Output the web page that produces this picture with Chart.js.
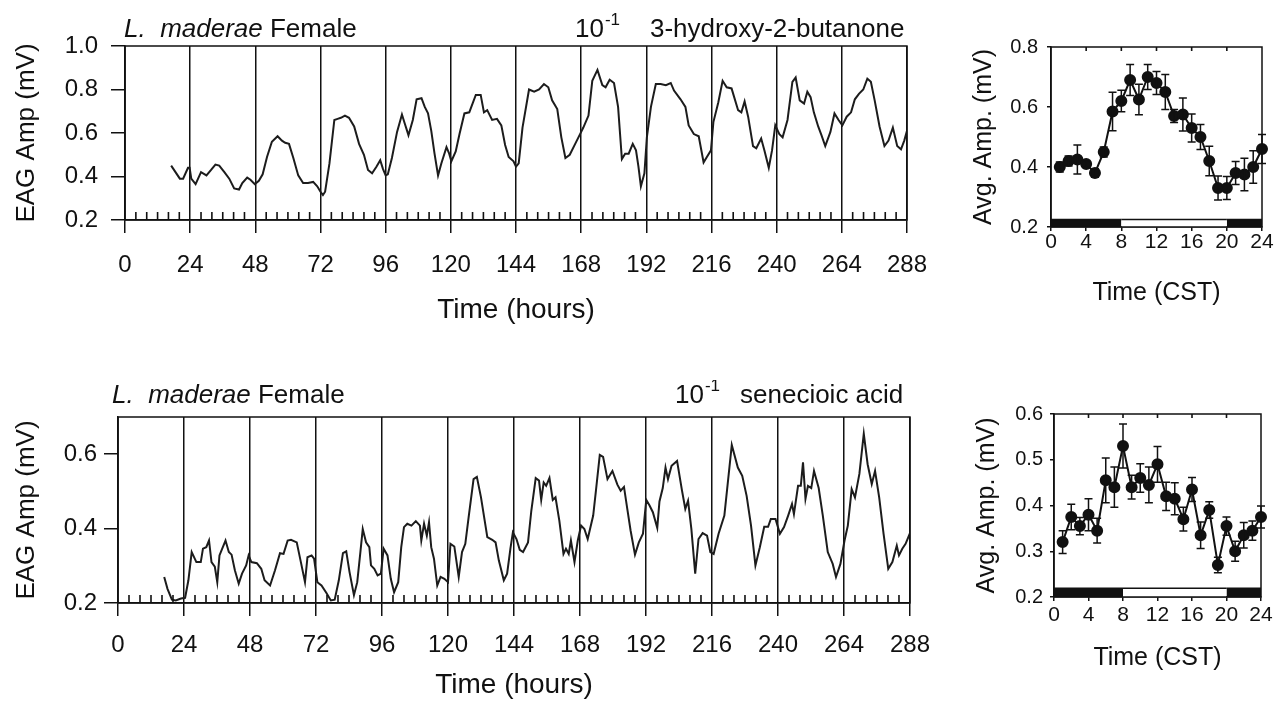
<!DOCTYPE html>
<html>
<head>
<meta charset="utf-8">
<title>L. maderae EAG rhythms</title>
<script src="https://cdn.jsdelivr.net/npm/chart.js@4.4.1/dist/chart.umd.min.js"></script>
<style>
  html, body { margin: 0; padding: 0; background: #fff; }
  body { width: 1277px; height: 702px; position: relative; overflow: hidden; }
  .panel { position: absolute; }
</style>
</head>
<body>
<div class="panel" style="left:0;top:0;width:945px;height:340px"><canvas id="butanoneTrace"></canvas></div>
<div class="panel" style="left:0;top:380px;width:945px;height:322px"><canvas id="senecioicTrace"></canvas></div>
<div class="panel" style="left:960px;top:0;width:317px;height:320px"><canvas id="butanoneAvg"></canvas></div>
<div class="panel" style="left:960px;top:380px;width:317px;height:322px"><canvas id="senecioicAvg"></canvas></div>
<script>
const FONT = "'Liberation Sans', Arial, Helvetica, sans-serif";
const INK = "#111";

// continuous EAG record, 10^-1 3-hydroxy-2-butanone
const butanoneHours = [17.0,20.2,21.4,23.2,23.8,24.4,26.0,28.0,30.0,31.7,
  33.3,34.7,36.6,38.4,40.2,42.0,43.2,45.0,46.2,47.8,
  49.3,50.7,52.3,54.1,56.2,57.8,59.0,60.4,62.0,63.8,
  65.6,67.4,69.3,70.8,72.0,72.9,73.7,75.3,77.1,78.3,
  79.5,81.0,82.5,84.4,86.2,88.0,89.5,91.0,92.6,94.0,
  95.0,96.0,96.8,98.3,100.2,102.0,103.0,104.4,106.0,107.4,
  109.2,110.4,111.6,112.8,114.0,115.3,116.5,118.4,119.4,120.2,
  121.8,123.2,125.0,126.8,128.0,129.2,131.0,132.2,133.4,135.2,
  137.0,138.6,140.0,141.3,143.1,144.0,145.0,146.4,148.8,150.7,
  152.5,154.3,155.9,157.3,159.2,160.7,162.2,163.8,165.8,167.6,
  168.8,170.7,172.1,174.0,175.8,177.0,178.5,180.1,181.6,183.0,
  184.2,185.5,187.0,188.2,189.1,190.0,191.3,192.2,193.7,195.5,
  197.3,199.2,201.0,202.2,204.6,206.4,207.6,209.5,211.3,213.1,
  214.3,215.8,216.7,218.5,220.1,221.6,223.4,224.0,225.8,227.0,
  228.2,229.5,231.3,232.5,234.3,235.5,237.1,238.3,239.5,241.0,
  242.2,244.0,245.8,247.0,248.5,250.1,251.3,252.5,253.7,255.3,
  256.5,257.9,259.8,261.3,262.8,264.2,265.8,267.4,268.8,270.3,
  271.9,273.4,274.7,276.1,277.9,279.7,281.2,282.8,284.4,285.8,
  287.0,288.0];
const butanoneAmp = [0.45,0.39,0.39,0.44,0.44,0.39,0.365,0.42,0.405,0.43,
  0.455,0.45,0.42,0.39,0.345,0.34,0.37,0.395,0.385,0.365,
  0.38,0.41,0.49,0.56,0.585,0.565,0.555,0.55,0.485,0.405,
  0.37,0.37,0.375,0.355,0.33,0.315,0.33,0.46,0.66,0.665,
  0.67,0.68,0.67,0.63,0.55,0.5,0.43,0.415,0.445,0.475,
  0.435,0.405,0.41,0.485,0.605,0.685,0.645,0.59,0.66,0.755,
  0.76,0.72,0.69,0.61,0.505,0.405,0.46,0.535,0.505,0.47,
  0.515,0.595,0.69,0.695,0.735,0.775,0.775,0.695,0.705,0.66,
  0.665,0.635,0.545,0.49,0.47,0.445,0.46,0.625,0.8,0.79,
  0.8,0.825,0.81,0.75,0.71,0.58,0.485,0.5,0.55,0.595,
  0.625,0.68,0.84,0.89,0.82,0.81,0.845,0.83,0.72,0.48,
  0.505,0.505,0.55,0.52,0.445,0.355,0.415,0.58,0.72,0.825,
  0.825,0.82,0.83,0.795,0.755,0.72,0.635,0.595,0.585,0.465,
  0.49,0.52,0.65,0.74,0.84,0.81,0.805,0.78,0.705,0.695,
  0.745,0.675,0.54,0.53,0.575,0.52,0.44,0.52,0.635,0.595,
  0.58,0.66,0.835,0.855,0.75,0.735,0.79,0.765,0.695,0.63,
  0.59,0.54,0.605,0.69,0.66,0.635,0.675,0.695,0.755,0.78,
  0.8,0.85,0.835,0.75,0.63,0.54,0.565,0.625,0.54,0.525,
  0.565,0.61];

// continuous EAG record, 10^-1 senecioic acid
const senecioicHours = [16.8,18.0,19.6,21.0,22.9,24.4,25.6,26.8,28.5,30.1,
  30.9,32.1,33.1,34.0,35.2,36.1,36.9,37.9,39.1,40.3,
  41.3,42.5,43.9,45.1,46.6,47.5,48.5,50.5,52.1,53.3,
  55.3,57.1,58.9,60.2,61.7,62.9,65.0,66.5,68.0,68.9,
  70.4,71.3,72.5,74.0,75.8,77.4,78.8,80.3,81.8,83.0,
  84.2,85.8,87.0,88.2,89.0,90.2,91.4,92.0,93.2,94.4,
  95.6,96.6,98.0,99.2,100.4,101.9,103.0,104.0,105.2,106.7,
  108.3,109.8,110.3,111.3,112.3,113.1,113.9,114.9,116.1,117.3,
  118.7,120.0,120.9,122.3,123.9,125.1,126.3,127.5,129.3,130.5,
  132.0,134.3,136.1,137.3,138.5,140.3,141.5,142.7,143.6,144.9,
  146.1,147.3,149.1,150.3,151.9,153.1,153.9,154.8,155.7,156.9,
  158.1,159.1,160.5,162.0,162.9,163.9,164.7,166.0,167.2,168.4,
  169.6,170.8,172.8,173.8,175.2,176.4,178.0,179.8,181.6,182.8,
  184.0,185.2,186.4,188.0,189.4,190.9,192.1,193.3,194.5,196.1,
  196.9,198.1,199.1,200.0,201.3,203.3,205.1,206.3,207.3,208.5,
  209.9,211.1,212.6,214.2,215.4,216.6,218.4,220.5,223.2,225.4,
  227.0,228.6,230.2,231.8,233.4,235.0,236.4,237.4,239.1,240.7,
  242.2,243.7,245.1,245.8,247.3,248.3,249.1,250.0,250.9,252.1,
  253.1,254.8,256.3,258.1,259.9,261.1,262.7,264.2,265.4,266.8,
  268.0,269.6,271.2,272.6,274.1,275.3,276.8,278.4,280.1,281.6,
  283.2,284.0,285.2,286.4,288.0];
const senecioicAmp = [0.27,0.238,0.209,0.207,0.212,0.214,0.261,0.337,0.31,0.31,
  0.346,0.35,0.368,0.31,0.298,0.256,0.328,0.346,0.368,0.337,
  0.33,0.288,0.252,0.279,0.301,0.328,0.31,0.307,0.292,0.261,
  0.247,0.288,0.334,0.332,0.368,0.37,0.363,0.31,0.256,0.323,
  0.328,0.319,0.256,0.247,0.227,0.207,0.209,0.261,0.334,0.339,
  0.283,0.221,0.256,0.341,0.399,0.363,0.35,0.301,0.292,0.274,
  0.279,0.346,0.328,0.265,0.229,0.256,0.35,0.404,0.413,0.408,
  0.42,0.408,0.368,0.413,0.381,0.417,0.35,0.319,0.247,0.27,
  0.265,0.256,0.359,0.352,0.27,0.337,0.359,0.43,0.533,0.539,
  0.484,0.377,0.37,0.363,0.314,0.261,0.279,0.346,0.39,0.372,
  0.343,0.337,0.363,0.448,0.536,0.529,0.477,0.524,0.515,0.536,
  0.477,0.484,0.421,0.332,0.346,0.332,0.368,0.31,0.368,0.408,
  0.399,0.372,0.435,0.502,0.598,0.593,0.533,0.555,0.518,0.502,
  0.512,0.453,0.395,0.33,0.363,0.386,0.477,0.462,0.444,0.402,
  0.473,0.509,0.564,0.533,0.569,0.582,0.502,0.453,0.475,0.399,
  0.279,0.372,0.388,0.381,0.337,0.332,0.386,0.435,0.625,0.564,
  0.542,0.488,0.408,0.301,0.35,0.405,0.405,0.426,0.426,0.386,
  0.404,0.435,0.466,0.439,0.515,0.515,0.578,0.48,0.515,0.509,
  0.555,0.509,0.435,0.337,0.305,0.27,0.305,0.368,0.408,0.506,
  0.484,0.547,0.655,0.573,0.52,0.555,0.484,0.386,0.292,0.31,
  0.354,0.328,0.346,0.359,0.388];

// hourly averages over the record (clock time, CST)
const clockHours = [1,2,3,4,5,6,7,8,9,10,11,12,13,14,15,16,17,18,19,20,21,22,23,24];
const butanoneMean = [0.40,0.42,0.425,0.41,0.38,0.45,0.585,0.62,0.69,0.625,0.70,0.68,
  0.65,0.57,0.575,0.53,0.50,0.42,0.33,0.33,0.38,0.375,0.40,0.46];
const butanoneSem = [0.017,0.017,0.048,0.01,0.014,0.017,0.064,0.036,0.052,0.051,0.042,0.038,
  0.058,0.022,0.055,0.047,0.042,0.049,0.04,0.038,0.038,0.054,0.054,0.048];
const senecioicMean = [0.32,0.375,0.355,0.38,0.345,0.455,0.44,0.53,0.44,0.46,0.445,0.49,
  0.42,0.415,0.37,0.435,0.335,0.39,0.27,0.355,0.30,0.335,0.345,0.375];
const senecioicSem = [0.025,0.028,0.019,0.035,0.027,0.049,0.044,0.048,0.026,0.031,0.039,0.039,
  0.031,0.035,0.026,0.026,0.029,0.018,0.017,0.02,0.022,0.028,0.021,0.024];

// light:dark schedule
const darkPhases = [[0, 8], [20, 24]];
const lightPhase = [8, 20];

Chart.defaults.font.family = FONT;
Chart.defaults.color = INK;

const frame = {
  id: "frame",
  afterDraw(chart) {
    const { ctx, chartArea: a } = chart;
    ctx.save();
    ctx.strokeStyle = INK;
    ctx.lineWidth = 1.5;
    ctx.strokeRect(a.left, a.top, a.width, a.height);
    ctx.restore();
  },
};

// small ticks pointing into the plot
const innerTicks = (step, skip, len, sides) => ({
  id: "innerTicks",
  afterDraw(chart) {
    const { ctx, chartArea: a, scales: { x } } = chart;
    ctx.save();
    ctx.strokeStyle = INK;
    ctx.lineWidth = 1.6;
    ctx.beginPath();
    for (let v = x.min + step; v < x.max; v += step) {
      if (skip && v % skip === 0) continue;
      const px = x.getPixelForValue(v);
      sides.forEach((s) => {
        const y0 = s === "top" ? a.top : a.bottom;
        ctx.moveTo(px, y0);
        ctx.lineTo(px, s === "top" ? y0 + len : y0 - len);
      });
    }
    ctx.stroke();
    ctx.restore();
  },
});

const errorBars = {
  id: "errorBars",
  afterDatasetsDraw(chart) {
    const { ctx, scales: { x, y } } = chart;
    chart.data.datasets.forEach((ds) => {
      if (!ds.sem) return;
      ctx.save();
      ctx.strokeStyle = INK;
      ctx.lineWidth = 1.5;
      ctx.beginPath();
      ds.data.forEach((p, i) => {
        const px = x.getPixelForValue(p.x);
        const lo = y.getPixelForValue(p.y - ds.sem[i]);
        const hi = y.getPixelForValue(p.y + ds.sem[i]);
        ctx.moveTo(px, lo); ctx.lineTo(px, hi);
        ctx.moveTo(px - 4, lo); ctx.lineTo(px + 4, lo);
        ctx.moveTo(px - 4, hi); ctx.lineTo(px + 4, hi);
      });
      ctx.stroke();
      ctx.restore();
    });
  },
};

const caption = (o) => ({
  id: "caption",
  afterDraw(chart) {
    const ctx = chart.ctx;
    ctx.save();
    ctx.fillStyle = INK;
    ctx.textBaseline = "alphabetic";
    ctx.font = `italic 26px ${FONT}`;
    ctx.fillText("L.  maderae", o.x, o.y);
    const w = ctx.measureText("L.  maderae").width;
    ctx.font = `26px ${FONT}`;
    ctx.fillText(" Female", o.x + w, o.y);
    ctx.fillText("10", o.concX, o.y);
    const w10 = ctx.measureText("10").width;
    ctx.fillText(o.odor, o.odorX, o.y);
    ctx.font = `17px ${FONT}`;
    ctx.fillText("-1", o.concX + w10 + 1, o.y - 12);
    ctx.restore();
  },
});

// keep only labelled steps of 0.2 mV
const onStep = (step) => (s) => {
  s.ticks = s.ticks.filter((t) => Math.abs(t.value / step - Math.round(t.value / step)) < 1e-6);
};

const traceChart = (id, hours, amp, o) =>
  new Chart(document.getElementById(id), {
    type: "line",
    data: {
      datasets: [{
        data: hours.map((h, i) => ({ x: h, y: amp[i] })),
        borderColor: "#1c1c1c",
        borderWidth: 2,
        pointRadius: 0,
        tension: 0,
      }],
    },
    options: {
      responsive: true,
      maintainAspectRatio: false,
      animation: false,
      layout: { padding: { top: o.top, right: o.right, left: 0, bottom: 0 } },
      plugins: { legend: { display: false }, tooltip: { enabled: false } },
      scales: {
        x: {
          type: "linear", min: 0, max: 288, bounds: "data",
          afterFit: (s) => { s.height = o.xHeight; },
          ticks: { stepSize: 24, autoSkip: false, maxRotation: 0, padding: o.xPad, color: INK, font: { size: 24 } },
          grid: { color: INK, lineWidth: 1.5, tickLength: 13 },
          border: { color: INK, width: 1.5 },
          title: { display: true, text: "Time (hours)", color: INK, font: { size: 28 }, padding: { top: 0, bottom: o.titlePad } },
        },
        y: {
          min: 0.2, max: o.yMax, bounds: "data",
          afterFit: (s) => { s.width = o.yWidth; },
          afterBuildTicks: onStep(0.2),
          ticks: { stepSize: 0.2, includeBounds: false, padding: o.yPad, color: INK, font: { size: 24 }, callback: (v) => v.toFixed(1) },
          grid: { drawOnChartArea: false, color: INK, lineWidth: 1.5, tickLength: 14 },
          border: { color: INK, width: 1.5 },
          title: { display: true, text: "EAG Amp (mV)", color: INK, font: { size: 26 }, padding: { top: 11, bottom: 0 } },
        },
      },
    },
    plugins: [frame, innerTicks(4, 24, 8, ["bottom"]), caption(o.caption)],
  });

const phaseBar = ([from, to], top, fill) => ({
  data: [{ x: from, y: top }, { x: to, y: top }],
  fill: { value: 0.2 },
  backgroundColor: fill,
  borderColor: INK,
  borderWidth: 1.5,
  pointRadius: 0,
});

const avgChart = (id, mean, sem, o) =>
  new Chart(document.getElementById(id), {
    type: "line",
    data: {
      datasets: [
        {
          data: clockHours.map((h, i) => ({ x: h, y: mean[i] })),
          sem,
          borderColor: INK,
          borderWidth: 2,
          pointRadius: 5,
          pointBackgroundColor: INK,
          pointBorderColor: INK,
          clip: false,
        },
        ...darkPhases.map((p) => phaseBar(p, o.barTop, INK)),
        phaseBar(lightPhase, o.barTop, "#fff"),
      ],
    },
    options: {
      responsive: true,
      maintainAspectRatio: false,
      animation: false,
      layout: { padding: { top: o.top, right: o.right, left: 0, bottom: 0 } },
      plugins: { legend: { display: false }, tooltip: { enabled: false } },
      scales: {
        x: {
          type: "linear", min: 0, max: 24, bounds: "data",
          afterFit: (s) => { s.height = o.xHeight; },
          ticks: { stepSize: 4, autoSkip: false, maxRotation: 0, padding: o.xPad, color: INK, font: { size: 21, lineHeight: 1 } },
          grid: { drawOnChartArea: false, color: INK, lineWidth: 1.5, tickLength: 4 },
          border: { color: INK, width: 1.5 },
          title: { display: true, text: "Time (CST)", color: INK, font: { size: 25 }, padding: { top: 0, bottom: o.titlePad } },
        },
        y: {
          min: 0.2, max: o.yMax, bounds: "data",
          afterFit: (s) => { s.width = o.yWidth; },
          ticks: { stepSize: o.yStep, padding: o.yPad, color: INK, font: { size: 20 }, callback: (v) => v.toFixed(1) },
          grid: { drawOnChartArea: false, color: INK, lineWidth: 1.5, tickLength: 4 },
          border: { color: INK, width: 1.5 },
          title: { display: true, text: "Avg. Amp. (mV)", color: INK, font: { size: 25 }, padding: { top: o.yTitlePad, bottom: 0 } },
        },
      },
    },
    plugins: [frame, errorBars, innerTicks(4, 0, 4, ["top"])],
  });

traceChart("butanoneTrace", butanoneHours, butanoneAmp, {
  top: 46, right: 29, yWidth: 125, xHeight: 120, xPad: 18, titlePad: 13, yMax: 1.0, yPad: 13,
  caption: { x: 124, y: 37, concX: 575, odorX: 650, odor: "3-hydroxy-2-butanone" },
});

traceChart("senecioicTrace", senecioicHours, senecioicAmp, {
  top: 37, right: 29, yWidth: 118, xHeight: 99, xPad: 15, titlePad: 0, yMax: 0.7, yPad: 7,
  caption: { x: 112, y: 23, concX: 675, odorX: 740, odor: "senecioic acid" },
});

avgChart("butanoneAvg", butanoneMean, butanoneSem, {
  top: 47, right: 15, yWidth: 91, xHeight: 93, xPad: 1, titlePad: 12,
  yMax: 0.8, yStep: 0.2, yPad: 9, yTitlePad: 9, barTop: 0.225,
});

avgChart("senecioicAvg", senecioicMean, senecioicSem, {
  top: 34, right: 16, yWidth: 94, xHeight: 105, xPad: 4, titlePad: 29,
  yMax: 0.6, yStep: 0.1, yPad: 7, yTitlePad: 12, barTop: 0.219,
});
</script>
</body>
</html>
